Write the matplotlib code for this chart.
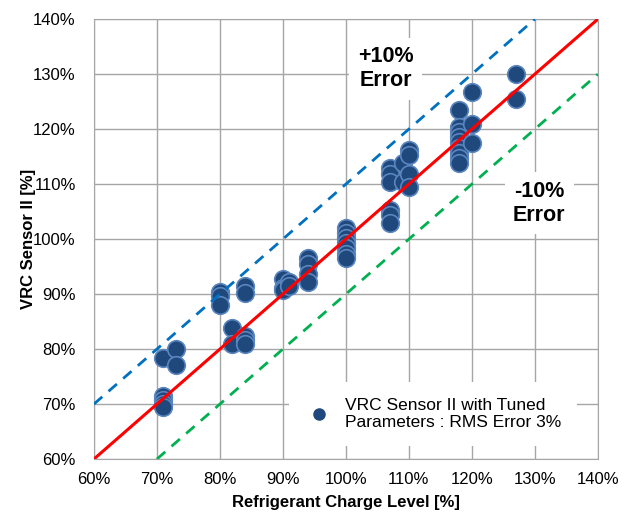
import numpy as np
import matplotlib.pyplot as plt
from matplotlib.lines import Line2D

plt.rcParams['font.family'] = ['Liberation Sans', 'DejaVu Sans']

# refrigerant charge level [%] and VRC sensor II estimate [%]
charge = [71, 71, 71, 71, 71, 73, 73,
          80, 80, 80, 82, 82, 84, 84, 84, 84, 84,
          90, 90, 90, 91, 91,
          94, 94, 94, 94,
          100, 100, 100, 100, 100, 100, 100,
          107, 107, 107, 107, 107, 107, 109, 109, 110, 110, 110, 110,
          118, 118, 118, 118, 118, 118, 118, 118, 118, 120, 120, 120,
          127, 127]
sensor = [78.3, 71.4, 70.8, 70.1, 69.5, 80.0, 77.1,
          90.4, 89.6, 88.0, 83.9, 80.9, 91.4, 90.2, 82.3, 81.6, 81.0,
          92.7, 91.2, 90.8, 92.2, 91.4,
          96.5, 95.4, 93.7, 92.2,
          102.1, 101.2, 100.2, 99.3, 98.3, 97.3, 96.5,
          112.9, 111.8, 110.3, 105.3, 104.4, 103.0, 113.8, 110.4, 116.2, 115.3, 111.9, 109.5,
          123.4, 120.3, 119.4, 118.5, 117.6, 116.5, 115.6, 114.7, 113.9, 126.7, 120.9, 117.4,
          130.1, 125.4]

ref = [60, 140]
label = 'VRC Sensor II with Tuned\nParameters : RMS Error 3%'

fig = plt.figure(figsize=(6.3, 5.17), dpi=100)
ax = fig.add_axes([0.149, 0.112, 0.8, 0.851])

ax.scatter(charge, sensor, s=160, color='#1F497D', edgecolors='#5A85BE',
           linewidths=1.2, zorder=3)
ax.plot(ref, ref, color='red', lw=2.2, zorder=4)
ax.plot([60, 130], [70, 140], color='#0070C0', lw=2, ls=(0, (4, 3)), zorder=4)
ax.plot([70, 140], [60, 130], color='#00B050', lw=2, ls=(0, (4, 3)), zorder=4)

ax.set_xlim(60, 140)
ax.set_ylim(60, 140)
ticks = np.arange(60, 141, 10)
ax.set_xticks(ticks)
ax.set_yticks(ticks)
ax.set_xticklabels([f'{t}%' for t in ticks], fontsize=12)
ax.set_yticklabels([f'{t}%' for t in ticks], fontsize=12)
ax.tick_params(axis='x', length=0, pad=9)
ax.tick_params(axis='y', length=0, pad=13)
ax.grid(color='#A6A6A6', lw=1, zorder=0)
ax.set_axisbelow(True)
for s in ax.spines.values():
    s.set_color('#A6A6A6')

ax.set_xlabel('Refrigerant Charge Level [%]', fontsize=12, fontweight='bold', labelpad=6)
ax.set_ylabel('VRC Sensor II [%]', fontsize=12, fontweight='bold', labelpad=-2)

box = dict(facecolor='white', edgecolor='none', pad=6)
ax.text(106.3, 131, '+10%\nError', ha='center', va='center', fontsize=15.5,
        fontweight='bold', bbox=box, zorder=5, linespacing=1.2)
ax.text(130.7, 106.5, '-10%\nError', ha='center', va='center', fontsize=15.5,
        fontweight='bold', bbox=box, zorder=5, linespacing=1.2)

handle = Line2D([], [], ls='none', marker='o', markersize=8,
                color='#1F497D', markeredgecolor='#1F497D')
leg = ax.legend([handle], [label], loc='lower right', bbox_to_anchor=(0.975, 0.01),
                frameon=True, fontsize=12.5, handletextpad=0.7, handlelength=1.6,
                borderpad=0.9, fancybox=False)
leg.get_frame().set_edgecolor('none')
leg.get_frame().set_alpha(1)
leg.set_zorder(6)

fig.savefig('out.png', dpi=100)
